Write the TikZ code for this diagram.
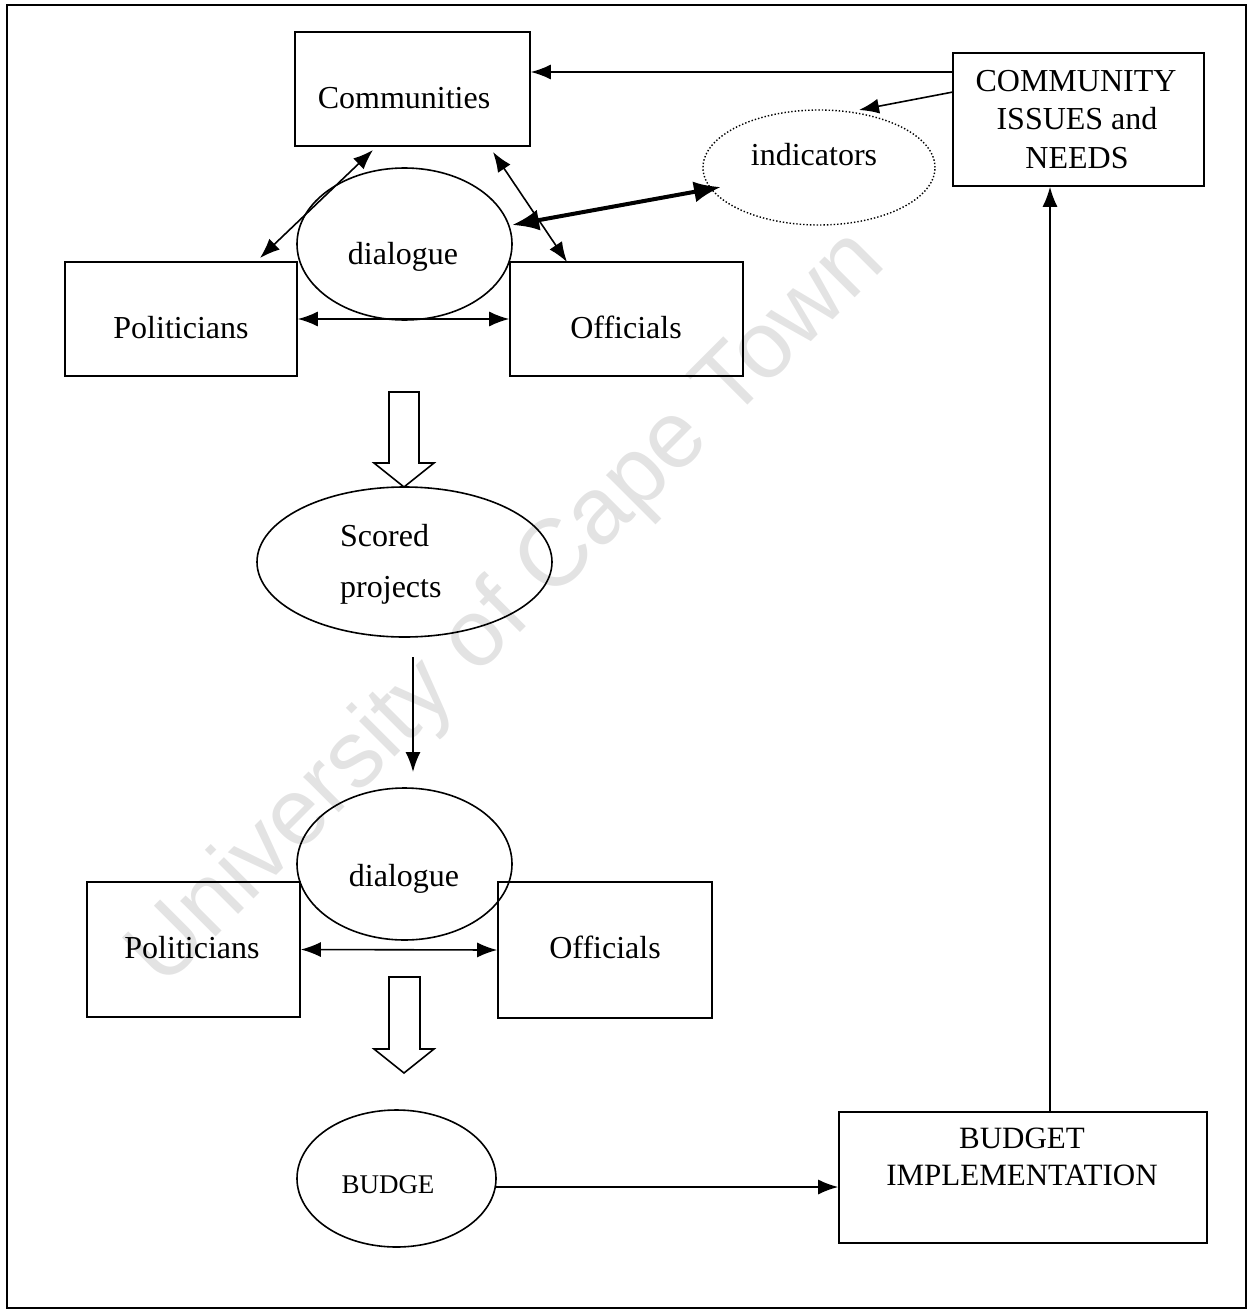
\documentclass[tikz,border=0pt]{standalone}
\usepackage{fontspec}
\setmainfont{Liberation Serif}
\newfontfamily\wmfont{Liberation Sans}
\usetikzlibrary{shapes.geometric,arrows.meta,calc}
\newcommand{\lbl}{\fontsize{32}{37}\selectfont}
\newcommand{\lblsmall}{\fontsize{27}{32}\selectfont}
\newcommand{\lblbi}{\fontsize{31}{36}\selectfont}
\begin{document}
\begin{tikzpicture}[x=1pt,y=-1pt,
  shapebox/.style={draw, line width=1.6pt, rectangle, inner sep=0pt},
  oval/.style={draw, line width=1.6pt, ellipse, inner sep=0pt},
  txt/.style={anchor=base, inner sep=0pt, font=\lbl},
  tip/.style={Latex[length=20pt,width=15pt]},
  bigtip/.style={Latex[length=27pt,width=21pt]},
  arr/.style={line width=1.6pt, -{Latex[length=20pt,width=15pt]}},
  darr/.style={line width=1.6pt, {Latex[length=20pt,width=15pt]}-{Latex[length=20pt,width=15pt]}},
  thickdarr/.style={line width=4pt, {Latex[length=27pt,width=21pt]}-{Latex[length=27pt,width=21pt]}},
  blockarrow/.style={draw, line width=1.6pt, fill=white, line join=miter}
]
\useasboundingbox (0,0) rectangle (1254,1311);

% watermark
\node[font=\wmfont\fontsize{95}{100}\selectfont, text=black!11, rotate=45, inner sep=0pt] (wm) at (508,610) {University of Cape Town};

% frame
\draw[line width=1.6pt] (7,5) rectangle (1246,1308);

% shapes
\node[shapebox, minimum width=235pt, minimum height=114pt] (comm) at (412.5,89) {};
\node[shapebox, minimum width=251pt, minimum height=133pt] (cin) at (1078.5,119.5) {};
\node[draw, line width=1.4pt, dotted, ellipse, inner sep=0pt, minimum width=232pt, minimum height=115pt] (ind) at (819,167.5) {};
\node[oval, minimum width=215pt, minimum height=152pt] (dlg1) at (404.5,244) {};
\node[shapebox, minimum width=232pt, minimum height=114pt] (pol1) at (181,319) {};
\node[shapebox, minimum width=233pt, minimum height=114pt] (off1) at (626.5,319) {};
\node[oval, minimum width=295pt, minimum height=150pt] (scored) at (404.5,562) {};
\node[oval, minimum width=215pt, minimum height=152pt] (dlg2) at (404.5,864) {};
\node[shapebox, minimum width=213pt, minimum height=135pt] (pol2) at (193.5,949.5) {};
\node[shapebox, minimum width=214pt, minimum height=136pt] (off2) at (605,950) {};
\node[oval, minimum width=199pt, minimum height=137pt] (budge) at (396.5,1178.5) {};
\node[shapebox, minimum width=368pt, minimum height=131pt] (bi) at (1023,1177.5) {};

% texts
\node[txt] (tcomm) at (404,109) {Communities};
\node[txt] (tcin1) at (1076,92) {COMMUNITY};
\node[txt] (tcin2) at (1077,130) {ISSUES and};
\node[txt] (tcin3) at (1077,168) {NEEDS};
\node[txt] (tind) at (814,165) {indicators};
\node[txt] (tdlg1) at (403,264) {dialogue};
\node[txt] (tpol1) at (181,338) {Politicians};
\node[txt] (toff1) at (626,338) {Officials};
\node[txt, anchor=base west] (tsc1) at (340,546) {Scored};
\node[txt, anchor=base west] (tsc2) at (340,597) {projects};
\node[txt] (tdlg2) at (404,886) {dialogue};
\node[txt] (tpol2) at (192,958) {Politicians};
\node[txt] (toff2) at (605,958) {Officials};
\node[txt, font=\lblsmall] (tbudge) at (388,1193) {BUDGE};
\node[txt, font=\lblbi] (tbi1) at (1022,1148) {BUDGET};
\node[txt, font=\lblbi] (tbi2) at (1022,1185) {IMPLEMENTATION};

% block arrows
\draw[blockarrow] (389,392) -- (419,392) -- (419,463) -- (434,463) -- (404,487) -- (374,463) -- (389,463) -- cycle;
\draw[blockarrow] (389,977) -- (420,977) -- (420,1049) -- (434,1049) -- (404,1073) -- (374,1049) -- (389,1049) -- cycle;

% helper coordinates
\coordinate (ytop) at (0,72);
\coordinate (vx) at (1050,0);
\coordinate (ca) at (373,150);
\coordinate (pa) at (260,258);
\coordinate (cb) at (493,152);
\coordinate (ob) at (567,262);
\coordinate (da) at (512,225);
\coordinate (ia) at (721,187);
\coordinate (cinb) at (953,92);
\coordinate (indt) at (859,110);
\coordinate (sca) at (413,657);
\coordinate (dla) at (413,772);
\coordinate (bua) at (496,1187);

% connectors
\draw[arr] (cin.west |- ytop) -- (comm.east |- ytop);
\draw[arr] (cinb) -- (indt);
\draw[darr] (pa) -- (ca);
\draw[darr] (cb) -- (ob);
\draw[thickdarr] (da) -- (ia);
\draw[darr] (pol1.east) -- (off1.west);
\draw[arr] (sca) -- (dla);
\draw[darr] (pol2.east) -- (off2.west);
\draw[arr] (bua) -- (bi.west |- bua);
\draw[arr] (bi.north -| vx) -- (cin.south -| vx);
\end{tikzpicture}
\end{document}
